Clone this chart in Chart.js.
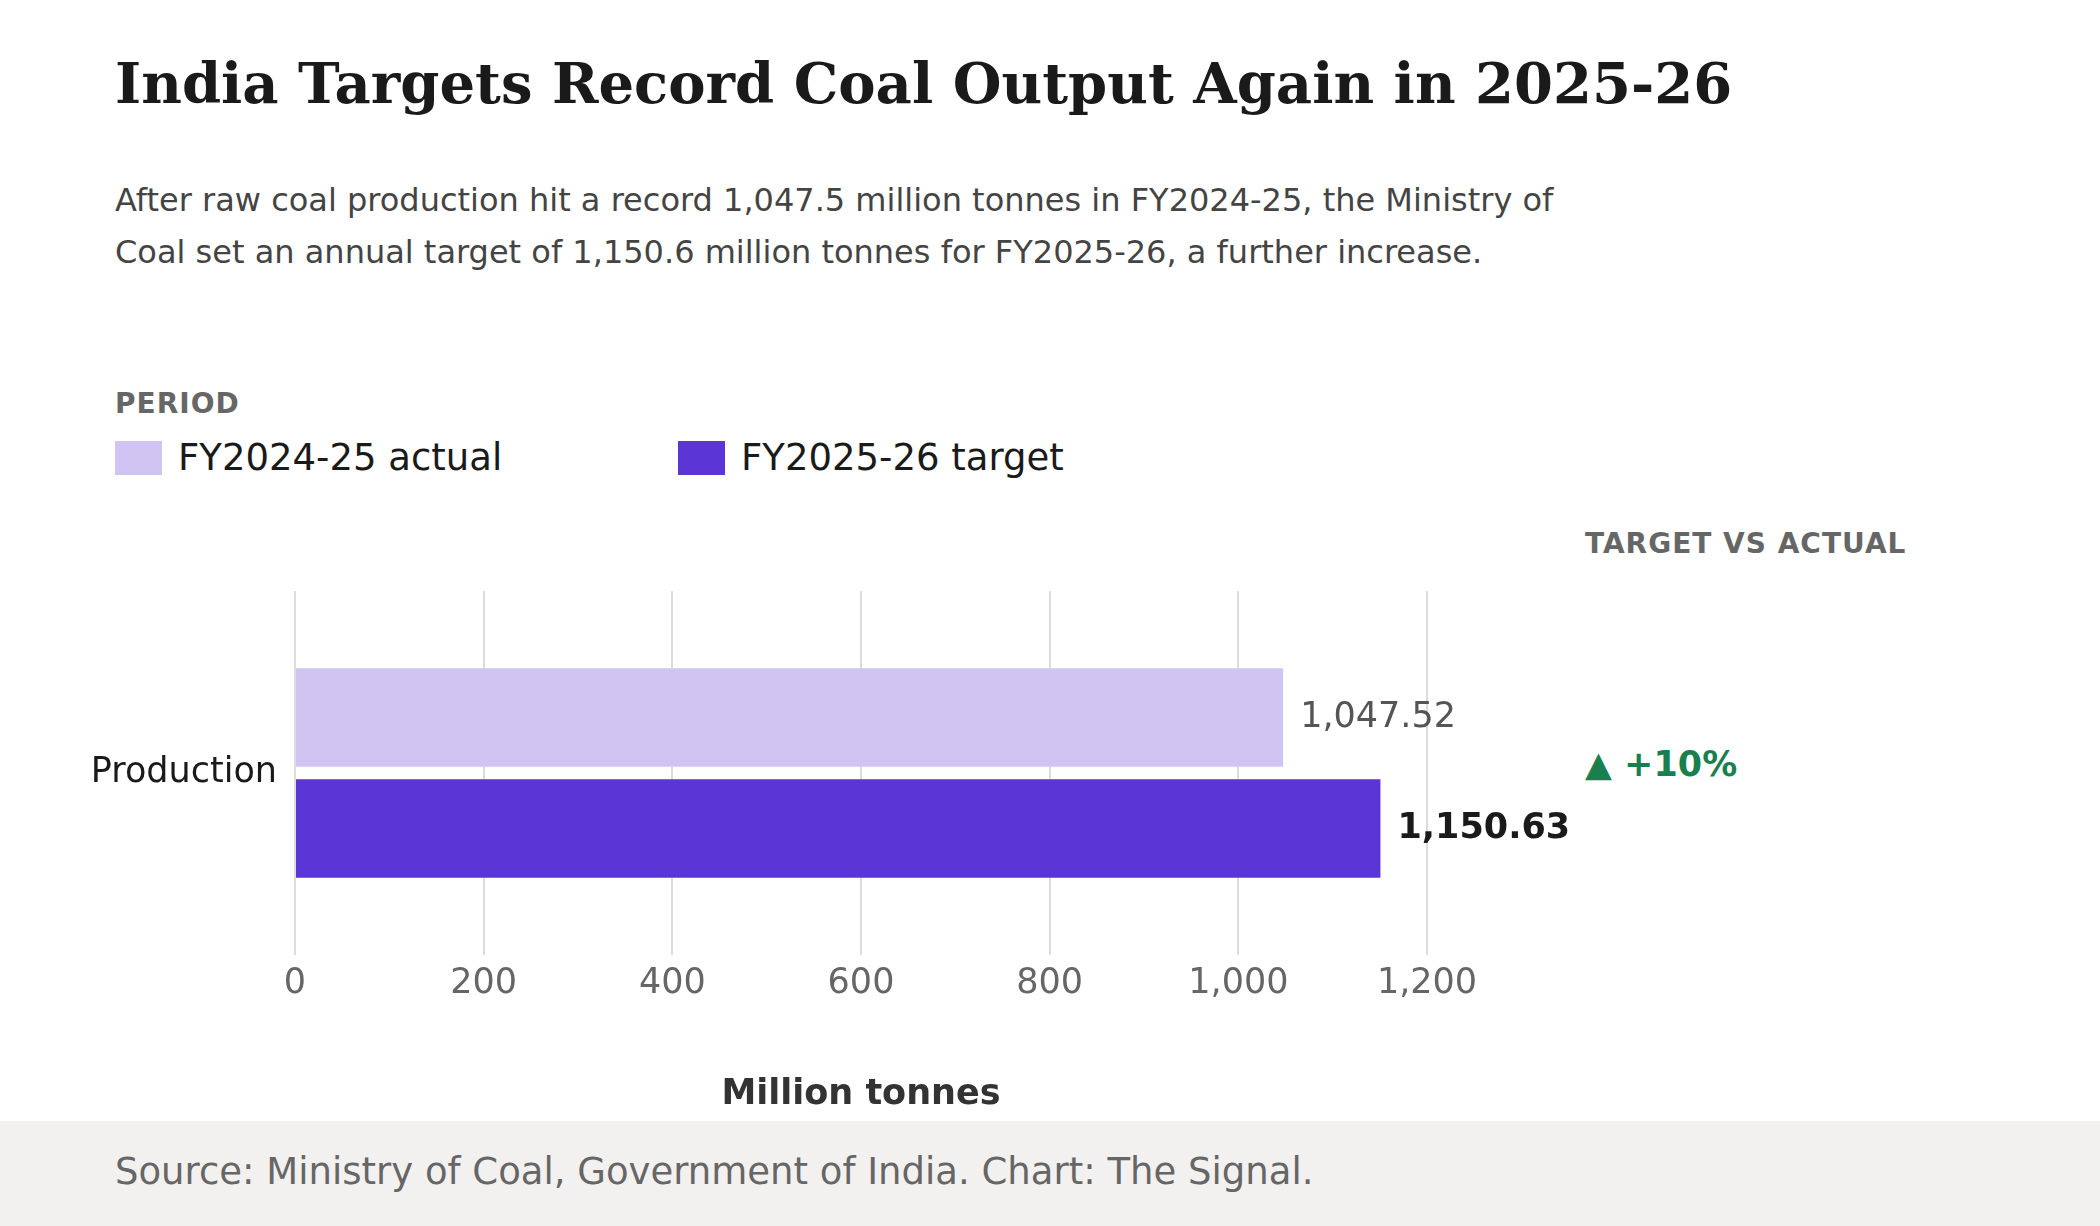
<!DOCTYPE html>
<html lang="en">
<head>
<meta charset="utf-8">
<title>India coal output</title>
<script src="https://cdn.jsdelivr.net/npm/chart.js@4/dist/chart.umd.min.js"></script>
<style>
* { margin: 0; padding: 0; box-sizing: border-box; }
body { width: 2100px; height: 1226px; background: #fff; font-family: "DejaVu Sans", sans-serif; position: relative; overflow: hidden; }
h1 { position: absolute; left: 115px; top: 50px; font-family: "DejaVu Serif", serif; font-size: 56px; font-weight: bold; color: #1a1a1a; }
.sub { position: absolute; left: 115px; top: 174px; width: 1460px; font-size: 32px; line-height: 52px; color: #444; }
.period { position: absolute; left: 115px; top: 387px; font-size: 28px; font-weight: bold; color: #666; letter-spacing: 1px; }
.leg { position: absolute; top: 436px; font-size: 37px; color: #1a1a1a; display: flex; align-items: center; }
.leg span { display: inline-block; width: 47px; height: 34px; margin-right: 16px; }
.tva { position: absolute; left: 1585px; top: 527px; font-size: 28px; font-weight: bold; color: #666; letter-spacing: 1px; }
.delta { position: absolute; left: 1585px; top: 744px; font-size: 35px; font-weight: bold; color: #1a7f4e; }
#wrap { position: absolute; left: 0; top: 560px; width: 2100px; height: 560px; }
footer { position: absolute; left: 0; top: 1121px; width: 2100px; height: 105px; background: #f2f1ef; }
footer p { position: absolute; left: 115px; top: 29px; font-size: 37px; color: #666; }
</style>
</head>
<body>
<h1>India Targets Record Coal Output Again in 2025-26</h1>
<p class="sub">After raw coal production hit a record 1,047.5 million tonnes in FY2024-25, the Ministry of Coal set an annual target of 1,150.6 million tonnes for FY2025-26, a further increase.</p>
<div class="period">PERIOD</div>
<div class="leg" style="left:115px"><span style="background:#d0c5f2"></span>FY2024-25 actual</div>
<div class="leg" style="left:678px"><span style="background:#5b35d5"></span>FY2025-26 target</div>
<div class="tva">TARGET VS ACTUAL</div>
<div class="delta">▲ +10%</div>
<div id="wrap"><canvas id="c"></canvas></div>
<footer><p>Source: Ministry of Coal, Government of India. Chart: The Signal.</p></footer>
<script>
const categories = ["Production"];
const seriesNames = ["FY2024-25 actual", "FY2025-26 target"];
const actualValues = [1047.52];
const targetValues = [1150.63];
const colors = ["#d0c5f2", "#5b35d5"];

// value labels at bar ends
const endLabels = {
  id: "endLabels",
  afterDatasetsDraw(chart) {
    const ctx = chart.ctx;
    chart.data.datasets.forEach((ds, i) => {
      chart.getDatasetMeta(i).data.forEach((bar, j) => {
        const v = ds.data[j];
        ctx.save();
        ctx.font = (i === 1 ? "bold " : "") + "35px 'DejaVu Sans'";
        ctx.fillStyle = i === 1 ? "#1a1a1a" : "#555";
        ctx.textBaseline = "middle";
        ctx.fillText(v.toLocaleString("en-US", { minimumFractionDigits: 2 }), bar.x + 17, bar.y);
        ctx.restore();
      });
    });
  }
};

new Chart(document.getElementById("c"), {
  type: "bar",
  plugins: [endLabels],
  data: {
    labels: categories,
    datasets: [
      { label: seriesNames[0], data: actualValues, backgroundColor: colors[0] },
      { label: seriesNames[1], data: targetValues, backgroundColor: colors[1] }
    ]
  },
  options: {
    indexAxis: "y",
    responsive: true,
    maintainAspectRatio: false,
    animation: false,
    categoryPercentage: 0.61,
    barPercentage: 0.887,
    layout: { padding: { top: 18, right: 673, left: 0, bottom: 0 } },
    plugins: { legend: { display: false }, tooltip: { enabled: false } },
    scales: {
      x: {
        min: 0, max: 1200,
        ticks: { stepSize: 200, color: "#666", font: { size: 35, family: "DejaVu Sans" }, padding: 8 },
        grid: { color: "#dcdcdc", lineWidth: 2, drawTicks: false },
        border: { display: false },
        title: { display: true, text: "Million tonnes", color: "#333", font: { size: 35, weight: "bold", family: "DejaVu Sans" }, padding: { top: 30 } },
        afterFit(s) { s.height = 165; }
      },
      y: {
        ticks: { color: "#1a1a1a", font: { size: 35, family: "DejaVu Sans" }, padding: 10 },
        grid: { display: false },
        border: { display: false },
        afterFit(s) { s.width = 295; }
      }
    }
  }
});
</script>
</body>
</html>
